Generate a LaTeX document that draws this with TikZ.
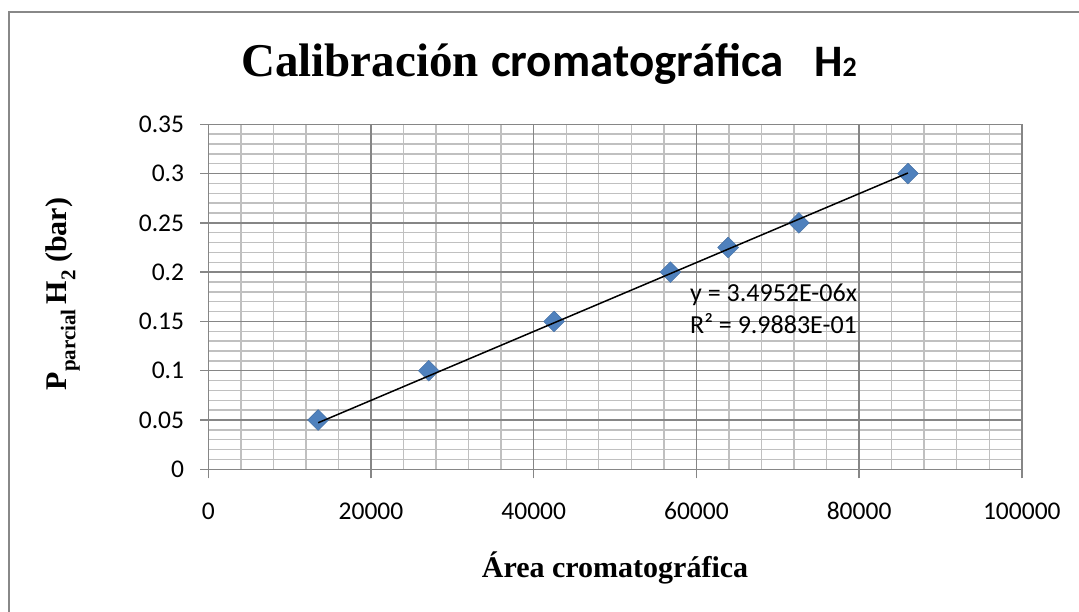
\documentclass[tikz,border=0pt]{standalone}
\usepackage{fontspec}
\setmainfont{Liberation Serif}
\newfontfamily\carlito{Carlito}
\usetikzlibrary{shapes.geometric}
\definecolor{minorgrid}{RGB}{192,192,192}
\definecolor{majorgrid}{RGB}{134,134,134}
\definecolor{framegray}{RGB}{136,136,136}
\definecolor{markerblue}{RGB}{79,129,189}
\begin{document}
\begin{tikzpicture}[x=1pt,y=1pt,
  minorline/.style={draw=minorgrid,line width=1.4pt},
  majorline/.style={draw=majorgrid,line width=1.4pt},
  ticklabel/.style={font=\carlito\fontsize{25.5}{26}\selectfont,inner sep=0pt},
  mk/.style={diamond,aspect=1,fill=markerblue,draw=markerblue!85!black,line width=0.4pt,minimum width=21pt,minimum height=21pt,inner sep=0pt},
  trend/.style={draw=black,line width=1.5pt},
  axtitle/.style={font=\bfseries\fontsize{30}{32}\selectfont,inner sep=0pt},
  eqlabel/.style={font=\carlito\fontsize{26}{28}\selectfont,inner sep=0pt,anchor=base west}]
\useasboundingbox (0,0) rectangle (1079,612);
\fill[white] (0,0) rectangle (1079,612);
% outer chart frame (clipped)
\draw[draw=framegray,line width=2pt] (9,0) -- (9,599.7) -- (1080,599.7);
% title
\node[anchor=base west,inner sep=0pt,font=\bfseries\fontsize{47}{50}\selectfont] (t1) at (241,535.3) {Calibración};
\node[anchor=base west,inner sep=0pt,font=\carlito\bfseries\fontsize{47}{50}\selectfont] (t2) at (491,535.3) {cromatográfica};
\node[anchor=base west,inner sep=0pt,font=\carlito\bfseries\fontsize{45}{50}\selectfont] (t3) at (814,535.3) {H{\fontsize{28}{30}\selectfont 2}};
% plot area
\begin{scope}[shift={(208.3,142.7)},x=8.135pt,y=9.857pt]
  \foreach \i in {4,8,12,16,24,28,32,36,44,48,52,56,64,68,72,76,84,88,92,96}
    \draw[minorline] (\i,0) -- (\i,35);
  \foreach \j in {1,2,3,4,6,7,8,9,11,12,13,14,16,17,18,19,21,22,23,24,26,27,28,29,31,32,33,34}
    \draw[minorline] (0,\j) -- (100,\j);
  \foreach \i in {0,20,40,60,80,100}
    \draw[majorline] (\i,-0.92) -- (\i,35);
  \foreach \j in {0,5,10,15,20,25,30,35}
    \draw[majorline] (-0.98,\j) -- (100,\j);
  % tick labels
  \foreach \j/\lab in {0/0,5/0.05,10/0.1,15/0.15,20/0.2,25/0.25,30/0.3,35/0.35}
    \node[ticklabel,anchor=east] (yl\j) at ([xshift=-24pt]0,\j) {\lab};
  \foreach \i/\lab in {0/0,20/20000,40/40000,60/60000,80/80000,100/100000}
    \node[ticklabel,anchor=center] (xl\i) at ([yshift=-42pt]\i,0) {\lab};
  % data markers
  \node[mk] (p1) at (13.5,5) {};
  \node[mk] (p2) at (27.1,10) {};
  \node[mk] (p3) at (42.5,15) {};
  \node[mk] (p4) at (56.8,20) {};
  \node[mk] (p5) at (63.9,22.5) {};
  \node[mk] (p6) at (72.6,25) {};
  \node[mk] (p7) at (86.0,30) {};
  % trendline
  \coordinate (ta) at (13.5,4.7185);
  \coordinate (tb) at (86.0,30.059);
  \draw[trend] (ta) -- (tb);
\end{scope}
% equation
\node[eqlabel] (eq1) at (690,310.3) {y = 3.4952E-06x};
\node[eqlabel] (eq2) at (690,278.7) {R² = 9.9883E-01};
% axis titles
\node[axtitle] (xt) at (615,44) {Área cromatográfica};
\node[axtitle,rotate=90] (yt) at (63,318) {P\raisebox{-0.28em}{\fontsize{21}{22}\selectfont parcial}\,H\raisebox{-0.28em}{\fontsize{21}{22}\selectfont 2} (bar)};
\end{tikzpicture}
\end{document}
